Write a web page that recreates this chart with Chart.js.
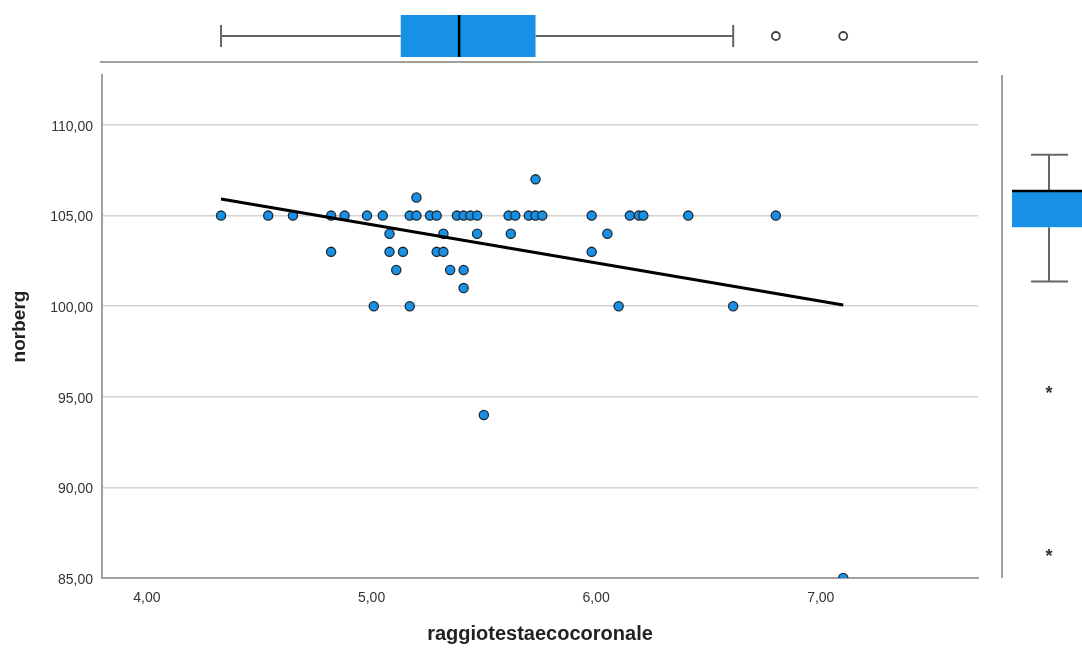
<!DOCTYPE html>
<html>
<head>
<meta charset="utf-8">
<script src="https://cdn.jsdelivr.net/npm/chart.js@4.4.1/dist/chart.umd.min.js"></script>
<style>
  html, body { margin: 0; padding: 0; background: #fff; }
</style>
</head>
<body>
<canvas id="grafico" width="1082" height="648"></canvas>
<script>
// raggiotestaecocoronale (x) e norberg (y), un valore per caso
const raggio = [
  4.33, 4.54, 4.65, 4.82, 4.88, 4.98, 5.05, 5.17, 5.20, 5.26, 5.29, 5.38, 5.41,
  5.44, 5.47, 5.61, 5.64, 5.70, 5.73, 5.76, 5.98, 6.15, 6.19, 6.21, 6.41, 6.80,
  5.20, 5.73,
  5.08, 5.32, 5.47, 5.62, 6.05,
  4.82, 5.08, 5.14, 5.29, 5.32, 5.98,
  5.11, 5.35, 5.41,
  5.41,
  5.01, 5.17, 6.10, 6.61,
  5.50,
  7.10
];
const norberg = [
  105, 105, 105, 105, 105, 105, 105, 105, 105, 105, 105, 105, 105,
  105, 105, 105, 105, 105, 105, 105, 105, 105, 105, 105, 105, 105,
  106, 107,
  104, 104, 104, 104, 104,
  103, 103, 103, 103, 103, 103,
  102, 102, 102,
  101,
  100, 100, 100, 100,
  94,
  85
];

// retta di regressione (estremi)
const rettaX = [4.33, 7.10];
const rettaY = [105.92, 100.07];

// box plot: [baffo min, Q1, mediana, Q3, baffo max]
const boxRaggio = [4.33, 5.13, 5.39, 5.73, 6.61];
const outlierRaggio = [6.80, 7.10];
const boxNorberg = [100, 103, 105, 105, 107];
const estremiNorberg = [94, 85];

const tickX = [4, 5, 6, 7];
const tickY = [85, 90, 95, 100, 105, 110];

const BLU = '#1790e6';
const fmt = v => v.toFixed(2).replace('.', ',');

// disegna i box plot marginali (sopra per x, a destra per y)
const boxPlugin = {
  id: 'boxMarginali',
  afterDraw(chart) {
    const ctx = chart.ctx;
    const area = chart.chartArea;
    const sx = chart.scales.x;
    const sy = chart.scales.y2;

    const linea = (x1, y1, x2, y2) => {
      ctx.beginPath();
      ctx.moveTo(x1, y1);
      ctx.lineTo(x2, y2);
      ctx.stroke();
    };

    ctx.save();

    // separatori
    ctx.strokeStyle = '#a0a0a0';
    ctx.lineWidth = 2;
    linea(area.left - 2, 62, area.right, 62);
    linea(1002, area.top, 1002, area.bottom);

    // --- box orizzontale (raggio)
    const [xl, xq1, xm, xq3, xh] = boxRaggio.map(v => sx.getPixelForValue(v));
    const cy = 36;
    ctx.strokeStyle = '#666';
    ctx.lineWidth = 2;
    linea(xl, cy, xq1, cy);
    linea(xq3, cy, xh, cy);
    linea(xl, 25, xl, 47);
    linea(xh, 25, xh, 47);
    ctx.fillStyle = BLU;
    ctx.fillRect(xq1, 15, xq3 - xq1, 42);
    ctx.strokeStyle = '#000';
    ctx.lineWidth = 2.5;
    linea(xm, 15, xm, 57);

    ctx.strokeStyle = '#444';
    ctx.lineWidth = 1.8;
    ctx.fillStyle = '#fff';
    outlierRaggio.forEach(v => {
      ctx.beginPath();
      ctx.arc(sx.getPixelForValue(v), cy, 4, 0, Math.PI * 2);
      ctx.fill();
      ctx.stroke();
    });

    // --- box verticale (norberg)
    const [yl, yq1, ym, yq3, yh] = boxNorberg.map(v => sy.getPixelForValue(v));
    const cx = 1049;
    ctx.strokeStyle = '#666';
    ctx.lineWidth = 2;
    linea(cx, yl, cx, yq1);
    linea(cx, yq3, cx, yh);
    linea(1031, yl, 1068, yl);
    linea(1031, yh, 1068, yh);
    ctx.fillStyle = BLU;
    ctx.fillRect(1012, yq3, 90, yq1 - yq3);
    ctx.strokeStyle = '#000';
    ctx.lineWidth = 2.5;
    linea(1012, ym, 1090, ym);

    ctx.fillStyle = '#333';
    ctx.font = 'bold 18px "Liberation Sans", Arial, sans-serif';
    ctx.textAlign = 'center';
    ctx.textBaseline = 'middle';
    estremiNorberg.forEach(v => {
      ctx.fillText('*', cx, sy.getPixelForValue(v) + 4);
    });

    ctx.restore();
  }
};

new Chart(document.getElementById('grafico'), {
  type: 'scatter',
  data: {
    datasets: [
      {
        data: rettaX.map((x, i) => ({ x: x, y: rettaY[i] })),
        showLine: true,
        borderColor: '#000',
        borderWidth: 3,
        pointRadius: 0
      },
      {
        data: raggio.map((x, i) => ({ x: x, y: norberg[i] })),
        backgroundColor: BLU,
        borderColor: '#1e2a33',
        borderWidth: 1.3,
        pointRadius: 4.6,
        clip: { left: 8, right: 8, top: 8, bottom: 0 }
      }
    ]
  },
  options: {
    responsive: false,
    animation: false,
    layout: { padding: { top: 75, right: 104, left: 0, bottom: 0 } },
    plugins: { legend: { display: false }, tooltip: { enabled: false } },
    scales: {
      x: {
        type: 'linear',
        min: 3.8,
        max: 7.7,
        afterBuildTicks: s => { s.ticks = tickX.map(v => ({ value: v })); },
        afterFit: s => { s.height = 70; },
        grid: { display: false, drawTicks: false },
        border: { display: true, color: '#a0a0a0', width: 2 },
        ticks: {
          padding: 12,
          color: '#333',
          font: { family: '"Liberation Sans", Arial, sans-serif', size: 14 },
          callback: v => fmt(v)
        },
        title: {
          display: true,
          text: 'raggiotestaecocoronale',
          color: '#222',
          font: { family: '"Liberation Sans", Arial, sans-serif', size: 20, weight: 'bold' },
          padding: { top: 0, bottom: 2 }
        }
      },
      y: {
        type: 'linear',
        min: 85,
        max: 112.76,
        afterBuildTicks: s => { s.ticks = tickY.map(v => ({ value: v })); },
        afterFit: s => { s.width = 102; },
        grid: { color: '#d2d2d2', lineWidth: 1.5, drawTicks: false },
        border: { display: true, color: '#a0a0a0', width: 2 },
        ticks: {
          padding: 9,
          labelOffset: 2,
          color: '#333',
          font: { family: '"Liberation Sans", Arial, sans-serif', size: 14 },
          callback: v => fmt(v)
        },
        title: {
          display: true,
          text: 'norberg',
          color: '#222',
          font: { family: '"Liberation Sans", Arial, sans-serif', size: 19, weight: 'bold' },
          padding: { top: 8, bottom: 0 }
        }
      },
      y2: {
        type: 'linear',
        position: 'right',
        display: false,
        min: 83.64,
        max: 111.4
      }
    }
  },
  plugins: [boxPlugin]
});
</script>
</body>
</html>
